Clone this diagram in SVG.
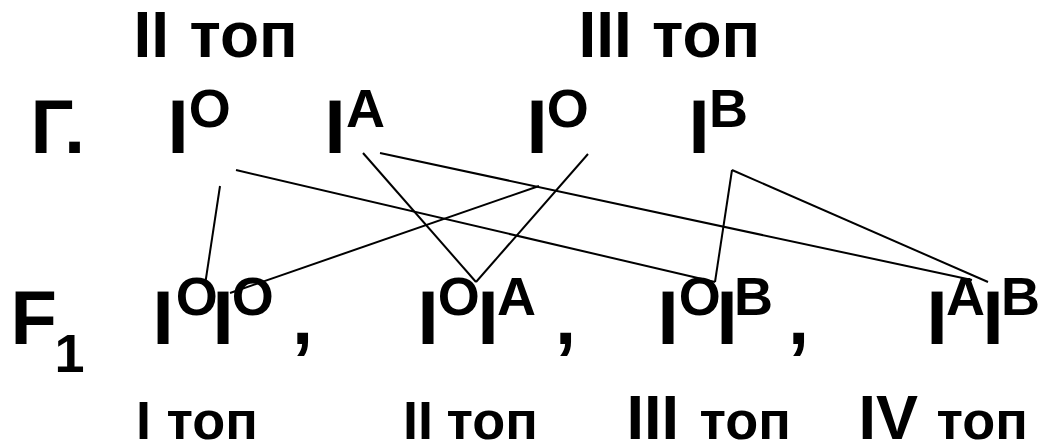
<svg xmlns="http://www.w3.org/2000/svg" width="1043" height="443" viewBox="0 0 1043 443">
<style>
text{font-family:"Liberation Sans",Arial,sans-serif;font-weight:bold;fill:#000}
.m{font-size:76px}
.s{font-size:54px}
.t{font-size:64px}
.b{font-size:54px}
.bb{font-size:63px}
.c line{stroke:#000;stroke-width:2;fill:none}
</style>
<rect width="1043" height="443" fill="#fff"/>
<g id="label-top-II"><text class="t" x="133.4" y="57">II<tspan x="189.5">топ</tspan></text></g>
<g id="label-top-III"><text class="t" x="578.4" y="57">III<tspan x="652">топ</tspan></text></g>
<g id="gamete-label"><text class="m" x="30.5" y="153">Г</text><text class="m" x="64" y="153">.</text></g>
<g id="g-IO-1"><text class="m" x="167.5" y="153">I</text><text class="s" x="188.8" y="127">O</text></g>
<g id="g-IA"><text class="m" x="324.5" y="153">I</text><text class="s" x="346" y="127">A</text></g>
<g id="g-IO-2"><text class="m" x="526.5" y="153">I</text><text class="s" x="546.8" y="127">O</text></g>
<g id="g-IB"><text class="m" x="688.5" y="153">I</text><text class="s" x="709" y="127">B</text></g>
<g id="f1-label"><text class="m" x="10.4" y="344">F</text><text class="s" x="54.4" y="372">1</text></g>
<g id="f-OO"><text class="m" x="152.5" y="344">I</text><text class="s" x="175.8" y="315">O</text><text class="m" x="212.5" y="344">I</text><text class="s" x="231.8" y="315">O</text><text class="m" x="292" y="344">,</text></g>
<g id="f-OA"><text class="m" x="417.5" y="344">I</text><text class="s" x="437.8" y="315">O</text><text class="m" x="477.5" y="344">I</text><text class="s" x="497" y="315">A</text><text class="m" x="555" y="344">,</text></g>
<g id="f-OB"><text class="m" x="657.5" y="344">I</text><text class="s" x="678.8" y="315">O</text><text class="m" x="716.5" y="344">I</text><text class="s" x="734" y="315">B</text><text class="m" x="788" y="344">,</text></g>
<g id="f-AB"><text class="m" x="926.5" y="344">I</text><text class="s" x="946" y="315">A</text><text class="m" x="982.5" y="344">I</text><text class="s" x="1001" y="315">B</text></g>
<g id="label-bot-I"><text class="b" x="136" y="439">I<tspan x="166.5">топ</tspan></text></g>
<g id="label-bot-II"><text class="b" x="403" y="439">II<tspan x="446.5">топ</tspan></text></g>
<g id="label-bot-III"><text class="bb" x="626.5" y="439">III<tspan class="b" x="699.5">топ</tspan></text></g>
<g id="label-bot-IV"><text class="bb" x="858.5" y="439">IV<tspan class="b" x="936.5">топ</tspan></text></g>
<g id="connectors" class="c">
<line x1="236" y1="170" x2="715" y2="282"/>
<line x1="715" y1="282" x2="732" y2="170"/>
<line x1="732" y1="170" x2="988" y2="282"/>
<line x1="380" y1="153" x2="972" y2="280"/>
<line x1="363" y1="153" x2="476" y2="282"/>
<line x1="476" y1="282" x2="588" y2="154"/>
<line x1="220" y1="186" x2="205" y2="285"/>
<line x1="230" y1="293" x2="539" y2="186"/>
</g>
</svg>
